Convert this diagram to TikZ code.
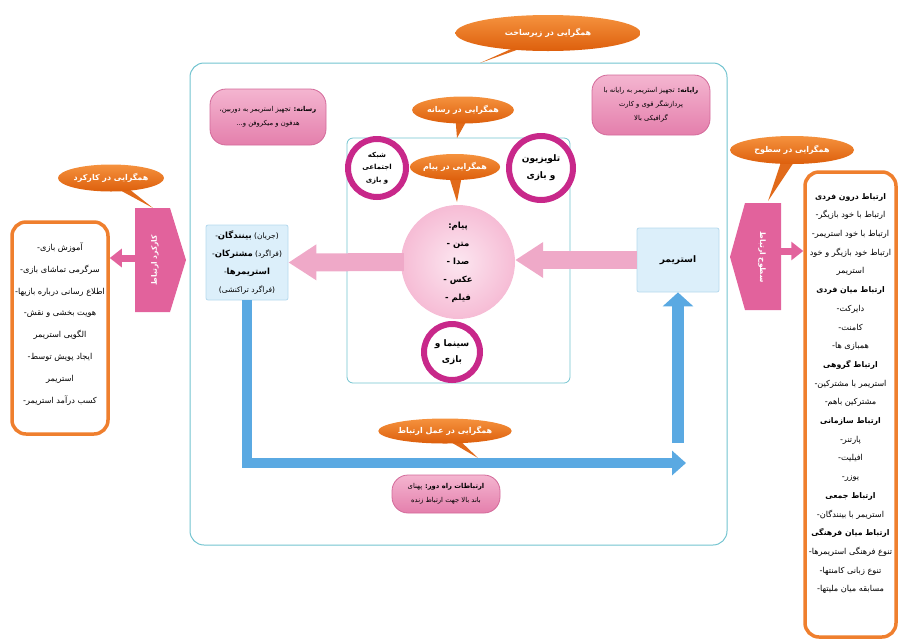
\documentclass[tikz,border=0pt]{standalone}
\usepackage{fontspec}
\newfontfamily\ar[Script=Arabic]{DejaVu Sans}
\TeXXeTstate=1
\usetikzlibrary{arrows.meta,shapes.geometric,calc}
\newcommand\RL[1]{\beginR #1\endR}
\newcommand\D{\kern0pt-}
\newcommand\K{\kern0pt}
\definecolor{orA}{HTML}{F5923E}
\definecolor{orB}{HTML}{DD5F0C}
\definecolor{orT}{HTML}{E16A1A}
\definecolor{pkA}{HTML}{F4B5D0}
\definecolor{pkB}{HTML}{E47FAC}
\definecolor{pkD}{HTML}{D36A9A}
\definecolor{ringC}{HTML}{C8288A}
\definecolor{msgA}{HTML}{FCE6F0}
\definecolor{msgB}{HTML}{F6BCD5}
\definecolor{lbF}{HTML}{DCEFFA}
\definecolor{lbD}{HTML}{B5D9EE}
\definecolor{tealC}{HTML}{72C3CF}
\definecolor{orBox}{HTML}{EF7F2E}
\definecolor{shapeC}{HTML}{E2629C}
\definecolor{pkArr}{HTML}{EFA9C8}
\definecolor{blueC}{HTML}{5AA9E2}
\pgfdeclarelayer{bg}
\pgfdeclarelayer{tails}
\pgfsetlayers{bg,tails,main}
\begin{document}
\begin{tikzpicture}[x=1pt,y=1pt,
  callout/.style={ellipse, top color=orA, bottom color=orB, draw=none, text=white,
    font=\ar\bfseries\fontsize{8}{9}\selectfont, inner sep=0pt},
  pinkbox/.style={rounded corners=16pt, top color=pkA, bottom color=pkB, draw=pkD,
    line width=0.8pt, align=center, inner sep=0pt, font=\ar\fontsize{6.8}{14}\selectfont},
  ring/.style={circle, draw=ringC, line width=6pt, fill=white, align=center, inner sep=0pt,
    font=\ar\bfseries\fontsize{6.5}{14}\selectfont},
  lbbox/.style={fill=lbF, draw=lbD, line width=0.8pt, align=center, inner sep=0pt,
    rounded corners=2pt},
  obox/.style={draw=orBox, line width=3.5pt, rounded corners=14pt, fill=white},
  boxtext/.style={align=center, inner sep=0pt},
  pinkarrow/.style={draw=pkArr, line width=18pt, -{Triangle[width=34pt,length=28pt]}},
  smallarrow/.style={draw=shapeC, line width=7pt, -{Triangle[width=18pt,length=12pt]}},
  shapetext/.style={text=white, font=\ar\bfseries\fontsize{7.5}{9}\selectfont, inner sep=0pt}
]
\useasboundingbox (0,0) rectangle (899,-641);

% frames
\begin{pgfonlayer}{bg}
\node[draw=tealC, line width=1pt, rounded corners=14pt, minimum width=537pt, minimum height=482pt] (outer) at (458.5,-304) {};
\node[draw=tealC, line width=0.8pt, rounded corners=6pt, minimum width=223pt, minimum height=245pt] (inner) at (458.5,-260.5) {};
\end{pgfonlayer}

% callouts
\node[callout, minimum width=185pt, minimum height=36pt] (cTop) at (548,-33) {\RL{همگرایی در زیرساخت}};
\node[callout, minimum width=92pt, minimum height=27pt] (cMed) at (463,-110) {\RL{همگرایی در رسانه}};
\node[callout, minimum width=86pt, minimum height=26pt] (cMsg) at (455,-167) {\RL{همگرایی در پیام}};
\node[callout, minimum width=106pt, minimum height=27pt] (cFun) at (111,-178) {\RL{همگرایی در کارکرد}};
\node[callout, minimum width=124pt, minimum height=28pt] (cLev) at (792,-150) {\RL{همگرایی در سطوح}};
\node[callout, minimum width=122pt, minimum height=25pt] (cAct) at (445,-431) {\RL{همگرایی در عمل ارتباط}};

\coordinate (tTop) at (480,-63);
\coordinate (tMed) at (457,-138);
\coordinate (tMsg) at (457,-202);
\coordinate (tFun) at (153,-208);
\coordinate (tLev) at (768,-201);
\coordinate (tAct) at (478,-458);

\begin{pgfonlayer}{tails}
\foreach \c/\t in {cTop/tTop,cMed/tMed,cMsg/tMsg,cFun/tFun,cLev/tLev,cAct/tAct}{
  \fill[orT] ($(\c.center)+(-8,-3)$) -- (\t) -- ($(\c.center)+(8,-3)$) -- cycle;
}
\end{pgfonlayer}

% pink info boxes
\node[pinkbox, minimum width=116pt, minimum height=56pt] (media) at (268,-117)
  {\RL{{\bfseries رسانه\K:} تجهیز استریمر به دوربین\K،}\\ \RL{هدفون و میکروفن و\K...}};
\node[pinkbox, minimum width=118pt, minimum height=60pt] (comp) at (651,-105)
  {\RL{{\bfseries رایانه\K:} تجهیز استریمر به رایانه با}\\ \RL{پردازشگر قوی و کارت}\\ \RL{گرافیکی بالا}};
\node[pinkbox, minimum width=108pt, minimum height=38pt] (tele) at (446,-494)
  {\RL{{\bfseries ارتباطات راه دور\K:} پهنای}\\ \RL{باند بالا جهت ارتباط زنده}};

% media circles
\node[ring, minimum size=58pt, font=\ar\bfseries\fontsize{7}{12.5}\selectfont] (social) at (377,-168)
  {\RL{شبکه}\\ \RL{اجتماعی}\\ \RL{و بازی}};
\node[ring, minimum size=64pt, font=\ar\bfseries\fontsize{9}{17}\selectfont] (tv) at (541,-168)
  {\RL{تلویزیون}\\ \RL{و بازی}};
\node[ring, minimum size=56pt, font=\ar\bfseries\fontsize{9}{16}\selectfont] (cinema) at (452,-352)
  {\RL{سینما و}\\ \RL{بازی}};

% message
\node[circle, inner color=msgA, outer color=msgB, minimum size=114pt, inner sep=0pt, align=center,
  font=\ar\bfseries\fontsize{8.5}{18}\selectfont] (msg) at (458,-262)
  {\RL{پیام\K:}\\ \RL{متن \D}\\ \RL{صدا \D}\\ \RL{عکس \D}\\ \RL{فیلم \D}};

% light blue boxes
\node[lbbox, minimum width=82pt, minimum height=64pt, font=\ar\bfseries\fontsize{9}{10}\selectfont] (streamer) at (678,-260) {\RL{استریمر}};
\node[lbbox, minimum width=82pt, minimum height=75pt, font=\ar\fontsize{7.5}{18}\selectfont] (aud) at (247,-262.5)
  {\RL{(جریان) {\bfseries\fontsize{8.5}{18}\selectfont بینندگان}\D}\\ \RL{(فراگرد) {\bfseries\fontsize{8.5}{18}\selectfont مشترکان}\D}\\ \RL{{\bfseries\fontsize{8.5}{18}\selectfont استریمرها}\D}\\ \RL{(فراگرد تراکنشی)}};

% pink block arrows
\draw[pinkarrow] (streamer.west) -- (streamer.west -| msg.east);
\draw[pinkarrow] ($(msg.west)+(3,0)$) -- (aud.east);

% blue arrows
\coordinate (hEnd) at (686,-463);
\coordinate (vStart) at (678,-443);
\draw[draw=blueC, line width=10pt, -{Triangle[width=24pt,length=14pt]}] (aud.south) |- (hEnd);
\draw[draw=blueC, line width=12pt, -{Triangle[width=30pt,length=14pt]}] (vStart) -- (streamer.south);

% left side: function
\node[obox, minimum width=96pt, minimum height=212pt] (funbox) at (60,-328) {};
\node[boxtext, font=\ar\fontsize{8.2}{21.9}\selectfont] (funtext) at (60,-324)
  {\RL{آموزش بازی\D}\\ \RL{سرگرمی تماشای بازی\D}\\ \RL{اطلاع رسانی درباره بازیها\D}\\ \RL{هویت بخشی و نقش\D}\\
   \RL{الگویی استریمر}\\ \RL{ایجاد پویش توسط\D}\\ \RL{استریمر}\\ \RL{کسب درآمد استریمر\D}};
\fill[shapeC] (135,-208) -- (170,-208) -- (186,-260) -- (170,-312) -- (135,-312) -- cycle;
\node[shapetext, rotate=90] (funlbl) at (155,-260) {\RL{کارکرد ارتباط}};
\coordinate (funL) at (136,-258);
\draw[smallarrow] (funL) -- (funL -| funbox.east);

% right side: levels
\node[obox, minimum width=91pt, minimum height=465pt] (levbox) at (850.5,-404.5) {};
\node[boxtext, font=\ar\fontsize{8.2}{18.7}\selectfont] (levtext) at (850.5,-393.5)
  {\RL{\bfseries\fontsize{7.8}{18.7}\selectfont ارتباط درون فردی}\\ \RL{ارتباط با خود بازیگر\D}\\ \RL{ارتباط با خود استریمر\D}\\
   \RL{ارتباط خود بازیگر و خود}\\ \RL{استریمر}\\ \RL{\bfseries\fontsize{7.8}{18.7}\selectfont ارتباط میان فردی}\\
   \RL{دایرکت\D}\\ \RL{کامنت\D}\\ \RL{همبازی ها\D}\\ \RL{\bfseries\fontsize{7.8}{18.7}\selectfont ارتباط گروهی}\\
   \RL{استریمر با مشترکین\D}\\ \RL{مشترکین باهم\D}\\ \RL{\bfseries\fontsize{7.8}{18.7}\selectfont ارتباط سازمانی}\\
   \RL{پارتنر\D}\\ \RL{افیلیت\D}\\ \RL{یوزر\D}\\ \RL{\bfseries\fontsize{7.8}{18.7}\selectfont ارتباط جمعی}\\
   \RL{استریمر با بینندگان\D}\\ \RL{\bfseries\fontsize{7.8}{18.7}\selectfont ارتباط میان فرهنگی}\\ \RL{تنوع فرهنگی استریمرها\D}\\
   \RL{تنوع زبانی کامنتها\D}\\ \RL{مسابقه میان ملیتها\D}};
\fill[shapeC] (745,-203) -- (781,-203) -- (781,-310) -- (745,-310) -- (730,-257) -- cycle;
\node[shapetext, rotate=-90] (levlbl) at (762,-257) {\RL{سطوح ارتباط}};
\coordinate (levR) at (780,-251);
\draw[smallarrow] (levR) -- (levR -| levbox.west);
\end{tikzpicture}
\end{document}
